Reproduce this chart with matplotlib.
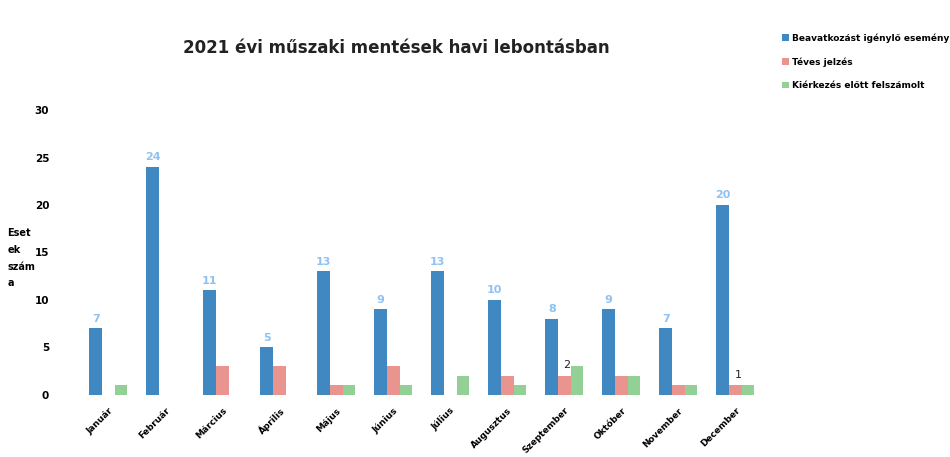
import numpy as np
import matplotlib.pyplot as plt

months = ["Január", "Február", "Március", "Április", "Május", "Június",
          "Július", "Augusztus", "Szeptember", "Október", "November", "December"]
beavatkozas = [7, 24, 11, 5, 13, 9, 13, 10, 8, 9, 7, 20]
teves = [0, 0, 3, 3, 1, 3, 0, 2, 2, 2, 1, 1]
felszamolt = [1, 0, 0, 0, 1, 1, 2, 1, 3, 2, 1, 1]
series_names = ["Beavatkozást igénylő esemény", "Téves jelzés", "Kiérkezés előtt felszámolt"]

plt.rcParams['font.family'] = ['DejaVu Sans']
fig = plt.figure(figsize=(9.5, 4.57), dpi=100)
ax = fig.add_axes([0.084, 0.136, 0.72, 0.623])

x = np.arange(len(months))
w = 0.22
b1 = ax.bar(x - w, beavatkozas, w, color="#3f88c2", label=series_names[0])
b2 = ax.bar(x, teves, w, color="#e9948e", label=series_names[1])
b3 = ax.bar(x + w, felszamolt, w, color="#93d096", label=series_names[2])

# value labels on blue bars
for xi, v in zip(x, beavatkozas):
    ax.text(xi - w, v + 0.5, str(v), ha="center", va="bottom", fontsize=8,
            color="#8ec2f2", fontweight="bold")
# two labels on red bars
ax.text(x[8] + 0.05, teves[8] + 0.6, "2", ha="center", va="bottom", fontsize=8, color="#222222")
ax.text(x[11] + 0.05, teves[11] + 0.6, "1", ha="center", va="bottom", fontsize=8, color="#222222")

ax.set_xlim(-0.5, len(months) - 0.5)
ax.set_ylim(0, 30)
ax.set_yticks(range(0, 31, 5))
ax.tick_params(axis="y", length=0, pad=22, labelsize=7.5)
for t in ax.get_yticklabels():
    t.set_fontweight("bold")
ax.set_xticks(x)
ax.set_xticklabels(months, rotation=45, ha="right", rotation_mode="anchor",
                   fontsize=6.5, fontweight="bold")
ax.tick_params(axis="x", length=0, pad=8)
for s in ax.spines.values():
    s.set_visible(False)

fig.text(0.008, 0.435, "Eset\nek\nszám\na", fontsize=7, fontweight="bold",
         ha="left", va="center", linespacing=1.85)
fig.text(0.417, 0.895, "2021 évi műszaki mentések havi lebontásban", fontsize=12,
         fontweight="bold", ha="center", va="center", color="#222222")

leg = fig.legend(handles=[b1, b2, b3], loc="upper left", bbox_to_anchor=(0.815, 0.945),
                 frameon=False, fontsize=6.5, handlelength=0.7, handleheight=0.7,
                 labelspacing=1.6, handletextpad=0.4)
for t in leg.get_texts():
    t.set_fontweight("bold")

fig.savefig("out.png", dpi=100)
